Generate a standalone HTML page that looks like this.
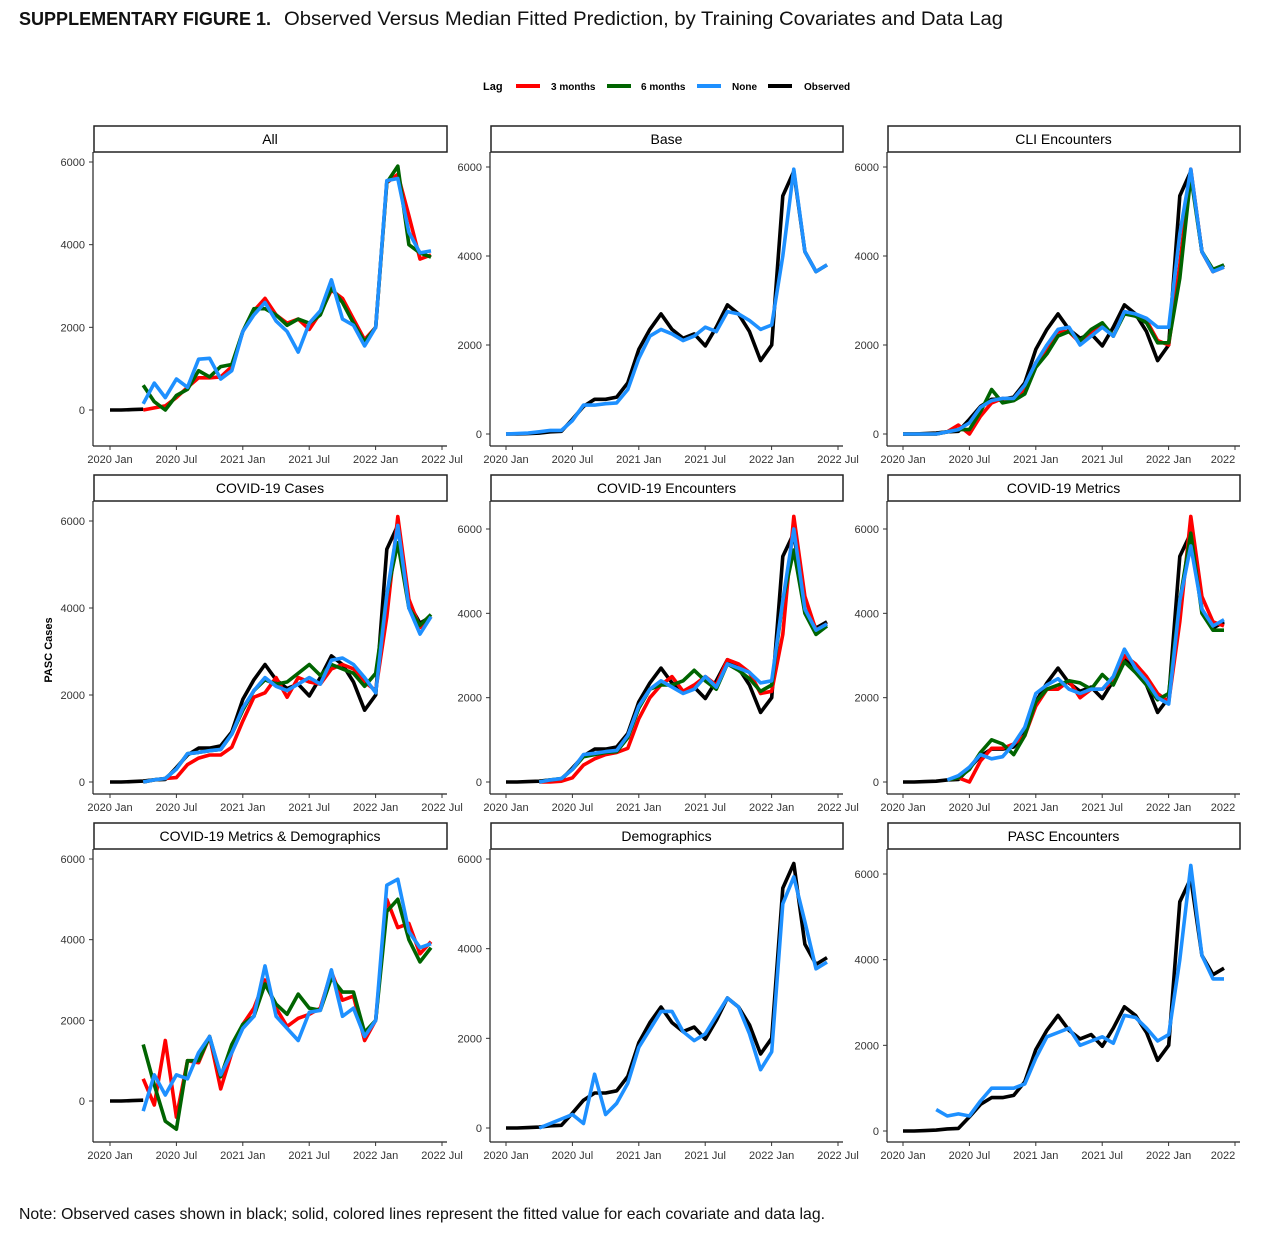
<!DOCTYPE html>
<html><head><meta charset="utf-8"><style>
body{margin:0;background:#fff;width:1280px;height:1242px;overflow:hidden;font-family:"Liberation Sans",sans-serif}
</style></head><body>
<svg id="s" width="1280" height="1242" xmlns="http://www.w3.org/2000/svg" font-family="Liberation Sans, sans-serif">
<text x="19" y="25" font-size="18" font-weight="bold" textLength="252" lengthAdjust="spacingAndGlyphs" fill="#111">SUPPLEMENTARY FIGURE 1.</text>
<text x="284" y="25" font-size="19" textLength="719" lengthAdjust="spacingAndGlyphs" fill="#111">Observed Versus Median Fitted Prediction, by Training Covariates and Data Lag</text>
<text x="483" y="90" font-size="11" font-weight="bold">Lag</text>
<rect x="516" y="84" width="24" height="4" fill="#ff0000"/><text x="551" y="90" font-size="10" font-weight="bold">3 months</text>
<rect x="607" y="84" width="24" height="4" fill="#006400"/><text x="641" y="90" font-size="10" font-weight="bold">6 months</text>
<rect x="697" y="84" width="24" height="4" fill="#1e90ff"/><text x="732" y="90" font-size="10" font-weight="bold">None</text>
<rect x="768" y="84" width="24" height="4" fill="#000"/><text x="804" y="90" font-size="10" font-weight="bold">Observed</text>
<text transform="translate(52,650) rotate(-90)" text-anchor="middle" font-size="11" font-weight="bold">PASC Cases</text>
<text x="19" y="1219" font-size="16" textLength="806" lengthAdjust="spacingAndGlyphs" fill="#111">Note: Observed cases shown in black; solid, colored lines represent the fitted value for each covariate and data lag.</text>
</svg>
<script>
const s=document.getElementById('s');
let h='';
const obs=[0,0,10,20,50,60,330,620,780,780,830,1150,1900,2350,2700,2350,2150,2250,1980,2400,2900,2700,2300,1650,2000,5350,5900,4100,3650,3800];
function shift(a,st){return {st:st,v:a};}
const P=[
{t:"All",y0:410,y6:162,b:shift([150,650,300,750,550,1230,1250,750,950,1900,2300,2600,2150,1900,1400,2100,2400,3150,2200,2050,1550,2000,5550,5600,4300,3800,3850],3),
 g:shift([600,200,0,350,500,950,800,1050,1100,1900,2450,2450,2300,2050,2200,2100,2300,2950,2600,2100,1650,2000,5500,5900,4000,3800,3700],3),
 r:shift([0,50,100,300,550,780,780,800,1050,1900,2400,2700,2300,2100,2200,1950,2350,2900,2700,2200,1700,2000,5500,5700,4700,3650,3750],3),obsEnd:3},
{t:"Base",y0:434,y6:167,b:shift([0,10,20,50,80,80,300,650,650,680,700,1000,1700,2200,2350,2250,2100,2200,2400,2300,2750,2700,2550,2350,2450,4000,5950,4100,3650,3800],0)},
{t:"CLI Encounters",y0:434,y6:167,last:"2022",b:shift([0,0,0,0,50,100,250,600,750,800,800,1100,1600,2000,2350,2400,2000,2200,2400,2200,2750,2700,2600,2400,2400,4500,5950,4100,3650,3750],0),
 g:shift([0,0,0,0,50,100,100,500,1000,700,750,900,1500,1800,2200,2300,2100,2350,2500,2200,2700,2650,2500,2050,2050,3500,5800,4100,3700,3800],0),
 r:shift([0,0,0,0,50,200,0,400,700,800,750,1000,1600,1900,2300,2300,2050,2300,2450,2200,2750,2650,2550,2100,2000,3800,5950,4100,3650,3750],0)},
{t:"COVID-19 Cases",y0:782,y6:521,b:shift([0,50,80,300,650,680,720,750,1100,1700,2100,2400,2200,2100,2250,2400,2250,2800,2850,2700,2400,2050,4300,5900,4000,3400,3800],3),
 g:shift([0,50,80,300,650,680,720,750,1100,1650,2100,2350,2250,2300,2500,2700,2450,2700,2600,2500,2200,2500,4300,5500,4000,3600,3850],3),
 r:shift([0,50,80,100,400,550,620,620,800,1400,1950,2050,2400,1950,2400,2300,2250,2600,2700,2600,2300,2100,3800,6100,4200,3550,3800],3)},
{t:"COVID-19 Encounters",y0:782,y6:529,b:shift([0,50,80,300,650,680,720,750,1100,1800,2200,2400,2250,2100,2200,2500,2250,2800,2700,2600,2350,2400,4300,6000,4100,3600,3750],3),
 g:shift([0,50,80,300,600,650,700,720,1050,1750,2200,2300,2300,2400,2650,2400,2200,2800,2650,2450,2150,2300,4300,5500,4000,3500,3700],3),
 r:shift([0,0,20,100,400,550,650,700,800,1500,2000,2300,2500,2150,2300,2500,2300,2900,2800,2600,2100,2150,3500,6300,4400,3600,3750],3)},
{t:"COVID-19 Metrics",y0:782,y6:529,last:"2022",b:shift([50,150,350,650,550,600,900,1300,2100,2300,2450,2200,2100,2200,2200,2500,3150,2700,2400,2000,1850,4300,5600,4100,3700,3850],4),
 g:shift([50,100,300,700,1000,900,650,1100,1900,2200,2300,2400,2350,2200,2550,2300,2850,2600,2300,1950,2100,4300,5900,4000,3600,3600],4),
 r:shift([50,100,0,500,800,800,900,1100,1800,2200,2200,2400,2000,2200,2200,2400,3000,2800,2500,2100,1900,3800,6300,4400,3800,3700],4)},
{t:"COVID-19 Metrics & Demographics",y0:1101,y6:859,b:shift([-250,650,150,650,550,1200,1600,650,1200,1800,2100,3350,2100,1800,1500,2200,2250,3250,2100,2300,1600,2000,5350,5500,4200,3800,3900],3),
 g:shift([1400,400,-500,-700,1000,1000,1600,600,1400,1900,2100,2900,2400,2150,2650,2300,2250,3050,2700,2700,1700,2000,4700,5000,4000,3450,3800],3),
 r:shift([550,-100,1500,-400,1000,950,1600,300,1200,1900,2300,3000,2300,1850,2050,2150,2300,3200,2500,2600,1500,2000,5000,4300,4400,3650,3950],3),obsEnd:3},
{t:"Demographics",y0:1128,y6:859,b:shift([0,100,200,300,100,1200,300,550,1000,1800,2200,2600,2600,2150,1950,2100,2500,2900,2700,2100,1300,1700,5000,5600,4600,3550,3700],3)},
{t:"PASC Encounters",y0:1131,y6:874,last:"2022",b:shift([500,350,400,350,700,1000,1000,1000,1100,1700,2200,2300,2400,2000,2100,2200,2050,2700,2650,2400,2100,2250,4000,6200,4100,3550,3550],3)}
];
const colX=[[93,447,110],[490,843,506],[887,1240,903]];
const rowY=[[126,152,446],[475,501,794],[823,849,1142]];
const ticks=["2020 Jan","2020 Jul","2021 Jan","2021 Jul","2022 Jan","2022 Jul"];
P.forEach((p,i)=>{
 const c=colX[i%3],r=rowY[Math.floor(i/3)];
 const X=m=>c[2]+m*11.07, Y=v=>p.y0+(p.y6-p.y0)*v/6000;
 h+=`<rect x="${c[0]+1}" y="${r[0]}" width="${c[1]-c[0]-1}" height="${r[1]-r[0]}" fill="#fff" stroke="#222" stroke-width="1.5"/>`;
 h+=`<text x="${(c[0]+c[1])/2}" y="${r[0]+18}" text-anchor="middle" font-size="14">${p.t}</text>`;
 h+=`<line x1="${c[0]}" y1="${r[1]}" x2="${c[0]}" y2="${r[2]}" stroke="#222" stroke-width="1.2"/>`;
 h+=`<line x1="${c[0]}" y1="${r[2]}" x2="${c[1]}" y2="${r[2]}" stroke="#222" stroke-width="1.2"/>`;
 for(let v=0;v<=6000;v+=2000){const y=Y(v);h+=`<line x1="${c[0]-4}" y1="${y}" x2="${c[0]}" y2="${y}" stroke="#333"/><text x="${c[0]-8}" y="${y+4}" text-anchor="end" font-size="11" fill="#333">${v}</text>`;}
 ticks.forEach((t,k)=>{const x=c[2]+k*66.4;let lab=t;if(k==5&&p.last){lab=p.last;}
  h+=`<line x1="${x}" y1="${r[2]}" x2="${x}" y2="${r[2]+4}" stroke="#333"/><text x="${k==5&&p.last?x-12:x}" y="${r[2]+17}" text-anchor="middle" font-size="11" fill="#333">${lab}</text>`;});
 const line=(arr,st,col)=>{let pts=arr.map((v,k)=>X(k+st).toFixed(1)+','+Y(v).toFixed(1)).join(' ');h+=`<polyline points="${pts}" fill="none" stroke="${col}" stroke-width="3.6" stroke-linejoin="round"/>`;};
 if(p.obsEnd) line(obs.slice(0,p.obsEnd+1),0,'#000'); else line(obs,0,'#000');
 if(p.r) line(p.r.v,p.r.st,'#ff0000');
 if(p.g) line(p.g.v,p.g.st,'#006400');
 line(p.b.v,p.b.st,'#1e90ff');
});
s.insertAdjacentHTML('beforeend',h);
</script>
</body></html>
